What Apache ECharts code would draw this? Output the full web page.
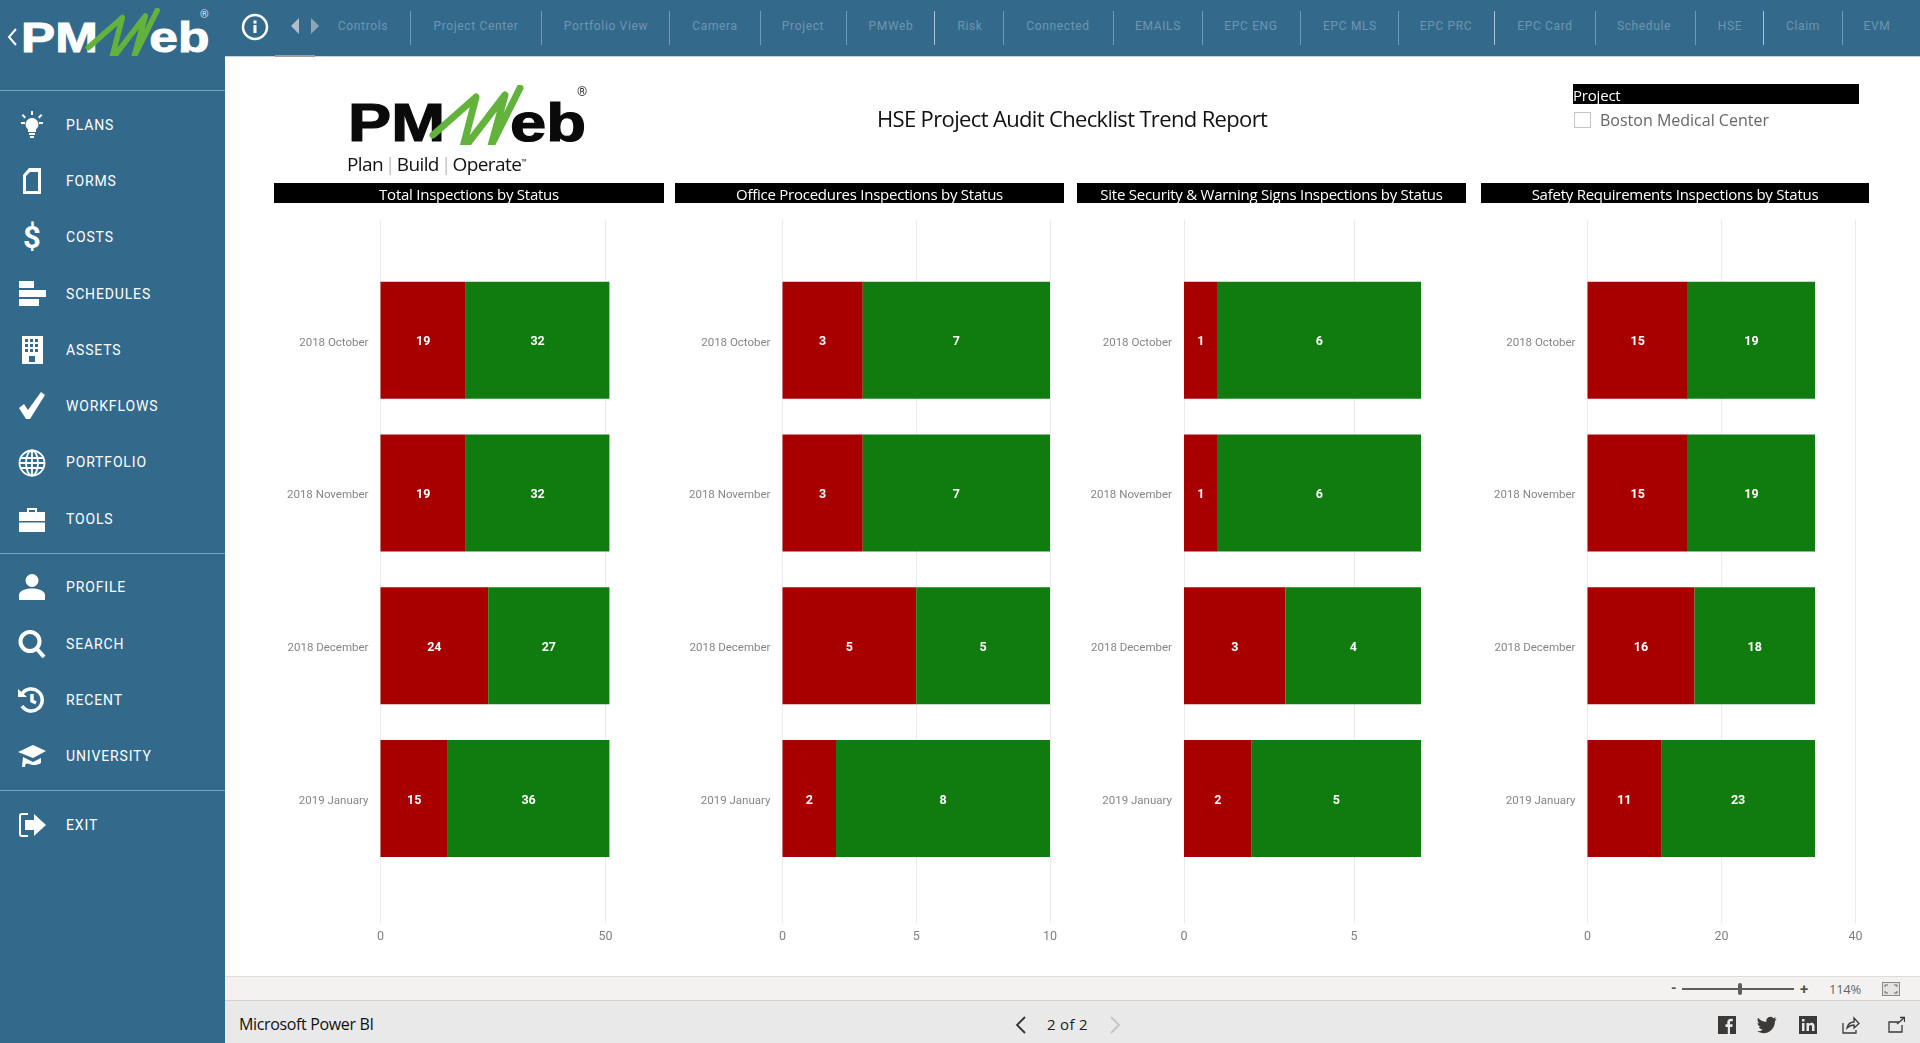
<!DOCTYPE html>
<html>
<head>
<meta charset="utf-8">
<title>HSE Project Audit Checklist Trend Report</title>
<script src="https://cdn.jsdelivr.net/npm/echarts@6/dist/echarts.min.js"></script>
<style>
  html, body { margin: 0; padding: 0; width: 1920px; height: 1043px; overflow: hidden; background: #fff; font-family: "Open Sans", sans-serif; }
  #chart { position: absolute; left: 0; top: 0; width: 1920px; height: 1043px; }
  .abs { position: absolute; white-space: nowrap; }
  #side { position: absolute; left: 0; top: 0; width: 225px; height: 1043px; background: #336a8c; }
  #top { position: absolute; left: 225px; top: 0; width: 1695px; height: 56px; background: #336a8c; border-bottom: 1px solid #c8d4dc; }
  .rule { position: absolute; left: 0; width: 225px; height: 1px; background: #7ba3bf; }
  .menu { position: absolute; left: 66px; color: #fff; font: 400 14px Roboto, sans-serif; letter-spacing: .85px; transform: translateY(-50%); margin-top: -1px; }
  .ico { position: absolute; left: 17px; width: 30px; height: 30px; transform: translateY(-50%); fill: #fff; stroke: none; }
  .nav { position: absolute; top: 26px; color: #6e95b0; font: 12px Roboto, sans-serif; letter-spacing: .65px; transform: translate(-50%, -50%); white-space: nowrap; }
  .sep { position: absolute; top: 11px; width: 1px; height: 34px; background: #6f9ab8; }
  .bar { position: absolute; top: 183px; height: 20px; background: #000; color: #fff; text-align: center; font-size: 15px; line-height: 22px; letter-spacing: -.25px; white-space: nowrap; }
</style>
</head>
<body>
<div id="chart"></div>

<svg width="0" height="0" style="position:absolute">
  <defs>
    <g id="logo">
      <text x="348" y="141" font-family="Liberation Sans" font-weight="bold" font-size="53" textLength="97" lengthAdjust="spacingAndGlyphs" stroke="currentColor" stroke-width="1.2">PM</text>
      <text x="510" y="141" font-family="Liberation Sans" font-weight="bold" font-size="53" textLength="76" lengthAdjust="spacingAndGlyphs" stroke="currentColor" stroke-width="1.2">eb</text>
      <polyline points="433,135 476,97 462,151 505,95 491,146 520,88" fill="none" stroke="#62b23c" stroke-width="7" stroke-linejoin="round" stroke-linecap="round"/>
    </g>
  </defs>
</svg>

<div id="side">
  <svg class="abs" style="left:21px;top:8px;width:194px;height:47.500px;color:#fff;fill:#fff" viewBox="348 85 245 60"><use href="#logo"/></svg>
  <svg class="abs" style="left:6px;top:27px;width:12px;height:20px" viewBox="0 0 12 20"><path d="M10 2L3 10l7 8" fill="none" stroke="#fff" stroke-width="2"/></svg>
  <div class="abs" style="left:200px;top:8px;color:#dfe8ee;font:11px Roboto">®</div>
  <div class="rule" style="top:90px"></div>
  <div class="rule" style="top:553px"></div>
  <div class="rule" style="top:790px"></div>

  <svg class="ico" style="top:125px" viewBox="0 0 30 30"><path d="M15 8a6.5 6.5 0 0 0-4 11.500V22h8v-2.500A6.500 6.500 0 0 0 15 8zM12 23h6v2h-6zM13 26h4v2h-4zM14 1h2v4h-2zM4 12h4v2H4zM22 12h4v2h-4zM6 4l3 3-1.400 1.400-3-3zM24 4l1.400 1.400-3 3L21 7z"/></svg>
  <div class="menu" style="top:125.500px">PLANS</div>
  <svg class="ico" style="top:181px" viewBox="0 0 30 30"><path d="M12 2h12v26H6V9zM13 6l-4 4v15h12V6z" fill-rule="evenodd"/></svg>
  <div class="menu" style="top:181.500px">FORMS</div>
  <div class="abs" style="left:23px;top:219px;color:#fff;font:bold 31px Roboto">$</div>
  <div class="menu" style="top:237.500px">COSTS</div>
  <svg class="ico" style="top:294px" viewBox="0 0 30 30"><path d="M2 2h15v7H2zM2 11h27v7H2zM2 20h20v7H2z"/></svg>
  <div class="menu" style="top:294.500px">SCHEDULES</div>
  <svg class="ico" style="top:350px" viewBox="0 0 30 30"><path d="M5 1h21v28H5zM8 4v3h3V4zM13 4v3h3V4zM18 4v3h3V4zM8 9v3h3V9zM13 9v3h3V9zM18 9v3h3V9zM8 14v3h3v-3zM13 14v3h3v-3zM18 14v3h3v-3zM12 21v6h6v-6z" fill-rule="evenodd"/></svg>
  <div class="menu" style="top:350.500px">ASSETS</div>
  <svg class="ico" style="top:406px" viewBox="0 0 30 30"><path d="M2 17l5-4 4 6L24 1l4 3-15 24h-4z"/></svg>
  <div class="menu" style="top:406.500px">WORKFLOWS</div>
  <svg class="ico" style="top:463px;fill:none;stroke:#fff;stroke-width:1.800" viewBox="0 0 30 30"><circle cx="15" cy="15" r="12.500"/><ellipse cx="15" cy="15" rx="6" ry="12.500"/><path d="M15 2.500v25M3 10h24M3 20h24M2.500 15h25"/></svg>
  <div class="menu" style="top:462.500px">PORTFOLIO</div>
  <svg class="ico" style="top:519px" viewBox="0 0 30 30"><path d="M10 8V4h10v4h-2V6h-6v2zM2 8h26v9H2zM2 18.500h26V28H2z"/></svg>
  <div class="menu" style="top:519.500px">TOOLS</div>
  <svg class="ico" style="top:587px" viewBox="0 0 30 30"><circle cx="15" cy="8.500" r="6.500"/><path d="M2 28v-5c0-4 6-6.500 13-6.500s13 2.500 13 6.500v5z"/></svg>
  <div class="menu" style="top:587.500px">PROFILE</div>
  <svg class="ico" style="top:644px;fill:none;stroke:#fff;stroke-width:4" viewBox="0 0 30 30"><circle cx="13" cy="12.500" r="9.500"/><path d="M20 20l7 8"/></svg>
  <div class="menu" style="top:644.500px">SEARCH</div>
  <svg class="ico" style="top:700px;fill:none;stroke:#fff;stroke-width:3.500" viewBox="0 0 30 30"><path d="M5 9a11 11 0 1 1 0 12M15 9v7l4 2"/><path d="M1 4l9 8H1z" fill="#fff" stroke="none"/></svg>
  <div class="menu" style="top:700.500px">RECENT</div>
  <svg class="ico" style="top:756px" viewBox="0 0 30 30"><path d="M1 11L16 4l13 6-13 7zM6 16l10 5 8-4v5c-5 3-9 2-12 1-2-1-4-1-4 3H5z"/></svg>
  <div class="menu" style="top:756.500px">UNIVERSITY</div>
  <svg class="ico" style="top:825px" viewBox="0 0 30 30"><path d="M11 3H5a3 3 0 0 0-3 3v18a3 3 0 0 0 3 3h6v-2H5a1 1 0 0 1-1-1V6a1 1 0 0 1 1-1h6z"/><path d="M8 10h9V4l12 11-12 11v-6H8z"/></svg>
  <div class="menu" style="top:825.500px">EXIT</div>
</div>

<div id="top"></div>
<svg class="abs" style="left:241px;top:11px;width:30px;height:32px" viewBox="0 0 30 32"><circle cx="14" cy="16" r="12" fill="none" stroke="#fff" stroke-width="2.500"/><rect x="12.500" y="14" width="3" height="8" fill="#fff"/><rect x="12.500" y="9.500" width="3" height="3" fill="#fff"/></svg>
<svg class="abs" style="left:290px;top:17px;width:32px;height:18px" viewBox="0 0 32 18"><path d="M1 9l8-8v16z" fill="#aebfca"/><path d="M21 1l8 8-8 8z" fill="#8da6b6"/></svg>
<div class="abs" style="left:275px;top:55px;width:40px;height:2px;background:#9f9f98"></div>

<div class="nav" style="left:363px">Controls</div><div class="sep" style="left:410px"></div>
<div class="nav" style="left:476px">Project Center</div><div class="sep" style="left:541px"></div>
<div class="nav" style="left:606px">Portfolio View</div><div class="sep" style="left:669px"></div>
<div class="nav" style="left:715px">Camera</div><div class="sep" style="left:760px"></div>
<div class="nav" style="left:803px">Project</div><div class="sep" style="left:846px"></div>
<div class="nav" style="left:891px">PMWeb</div><div class="sep" style="left:934px;background:#a9c4d6"></div>
<div class="nav" style="left:970px">Risk</div><div class="sep" style="left:1003px"></div>
<div class="nav" style="left:1058px">Connected</div><div class="sep" style="left:1113px"></div>
<div class="nav" style="left:1158px">EMAILS</div><div class="sep" style="left:1202px"></div>
<div class="nav" style="left:1251px">EPC ENG</div><div class="sep" style="left:1300px"></div>
<div class="nav" style="left:1350px">EPC MLS</div><div class="sep" style="left:1398px"></div>
<div class="nav" style="left:1446px">EPC PRC</div><div class="sep" style="left:1494px;background:#a9c4d6"></div>
<div class="nav" style="left:1545px">EPC Card</div><div class="sep" style="left:1595px"></div>
<div class="nav" style="left:1644px">Schedule</div><div class="sep" style="left:1695px"></div>
<div class="nav" style="left:1730px">HSE</div><div class="sep" style="left:1763px;background:#a9c4d6"></div>
<div class="nav" style="left:1803px">Claim</div><div class="sep" style="left:1842px"></div>
<div class="nav" style="left:1877px">EVM</div>

<svg class="abs" style="left:348px;top:85px;width:245px;height:60px;color:#0a0a0a;fill:#0a0a0a" viewBox="348 85 245 60"><use href="#logo"/></svg>
<div class="abs" style="left:577px;top:84px;color:#333;font:13px Roboto">®</div>
<div class="abs" style="left:347px;top:151px;color:#111;font:19px 'Open Sans';letter-spacing:-.6px">Plan<span style="color:#999;margin:0 2px;font-weight:300">|</span>Build<span style="color:#999;margin:0 2px;font-weight:300">|</span>Operate<sup style="font-size:7px">™</sup></div>

<div class="abs" style="left:877px;top:102px;color:#111;font-size:22px;line-height:32px;letter-spacing:-.65px">HSE Project Audit Checklist Trend Report</div>

<div class="abs" style="left:1573px;top:84px;width:286px;height:20px;background:#000;color:#fff;font-size:15px;line-height:23px;letter-spacing:-.2px">Project</div>
<div class="abs" style="left:1574px;top:112px;width:15px;height:14px;border:1px solid #c4c4c4"></div>
<div class="abs" style="left:1600px;top:109px;color:#666;font-size:16px;line-height:22px">Boston Medical Center</div>

<div class="bar" style="left:274px;width:390px">Total Inspections by Status</div>
<div class="bar" style="left:675px;width:389px">Office Procedures Inspections by Status</div>
<div class="bar" style="left:1077px;width:389px">Site Security &amp; Warning Signs Inspections by Status</div>
<div class="bar" style="left:1481px;width:388px">Safety Requirements Inspections by Status</div>

<div class="abs" style="left:225px;top:976px;width:1695px;height:25px;background:#f3f2f1;border-top:1px solid #dedcda;border-bottom:1px solid #d2d0ce;box-sizing:border-box"></div>
<div class="abs" style="left:225px;top:1001px;width:1695px;height:42px;background:#e9e9e9"></div>
<div class="abs" style="left:239px;top:1013px;color:#111;font-size:16px;line-height:22px;letter-spacing:-.35px">Microsoft Power BI</div>
<svg class="abs" style="left:1014px;top:1016px;width:14px;height:18px" viewBox="0 0 14 18"><path d="M11 1L3 9l8 8" fill="none" stroke="#333" stroke-width="1.800"/></svg>
<div class="abs" style="left:1047px;top:1013px;color:#222;font-size:15px;line-height:22px;letter-spacing:.3px">2 of 2</div>
<svg class="abs" style="left:1108px;top:1016px;width:14px;height:18px" viewBox="0 0 14 18"><path d="M3 1l8 8-8 8" fill="none" stroke="#c4c4c4" stroke-width="1.800"/></svg>

<div class="abs" style="left:1671px;top:980px;color:#555;font:bold 14px Roboto">-</div>
<div class="abs" style="left:1682px;top:988px;width:112px;height:2px;background:#605e5c"></div>
<div class="abs" style="left:1738px;top:983px;width:4px;height:12px;border-radius:2px;background:#605e5c"></div>
<div class="abs" style="left:1800px;top:980px;color:#555;font:bold 15px Roboto">+</div>
<div class="abs" style="left:1829px;top:980px;color:#666;font-size:13px;line-height:18px;letter-spacing:-.3px">114%</div>
<svg class="abs" style="left:1882px;top:982px;width:18px;height:14px" viewBox="0 0 18 14"><rect x=".5" y=".5" width="17" height="13" fill="#e3e3e3" stroke="#8a8a8a"/><path d="M3 5V3h3M12 3h3v2M15 9v2h-3M6 11H3V9" fill="none" stroke="#666"/></svg>

<svg class="abs" style="left:1718px;top:1016px;width:18px;height:18px" viewBox="0 0 18 18"><rect width="18" height="18" fill="#3b3a39"/><path d="M12 18v-7h2.300l.4-2.800H12V6.600c0-.8.3-1.300 1.400-1.300h1.400V2.800c-.3 0-1.100-.1-2-.1-2.100 0-3.500 1.300-3.500 3.600v1.900H7.500V11h2.300v7z" fill="#e9e9e9"/></svg>
<svg class="abs" style="left:1757px;top:1016px;width:20px;height:18px" viewBox="0 0 24 20"><path d="M23.500 2.600c-.9.400-1.800.7-2.800.8 1-.6 1.800-1.500 2.100-2.700-.9.600-2 1-3.100 1.200A4.900 4.900 0 0 0 11.300 6.400C7.300 6.200 3.700 4.300 1.300 1.300c-1.300 2.200-.6 5 1.500 6.500-.8 0-1.500-.2-2.200-.6 0 2.300 1.700 4.400 3.900 4.900-.7.200-1.500.2-2.200.1.600 2 2.400 3.400 4.600 3.400A9.900 9.900 0 0 1 0 17.600 14 14 0 0 0 7.500 19.800c9.100 0 14.300-7.700 14-14.600 1-.7 1.800-1.600 2-2.600z" fill="#3b3a39"/></svg>
<svg class="abs" style="left:1799px;top:1016px;width:18px;height:18px" viewBox="0 0 18 18"><rect width="18" height="18" fill="#3b3a39"/><path d="M3 7h2.500v8H3zM3 3h2.500v2.500H3zM7.500 7H10v1.200c.6-.9 1.500-1.400 2.700-1.400 2 0 2.800 1.300 2.800 3.500V15H13v-4.200c0-1.100-.4-1.800-1.300-1.800-1 0-1.700.7-1.700 1.900V15H7.500z" fill="#e9e9e9"/></svg>
<svg class="abs" style="left:1842px;top:1016px;width:18px;height:18px" viewBox="0 0 18 18"><path d="M1 7v10h13v-3M5 12c1-4 4-6 7-6V2l5 5.500L12 12V9c-3 0-5 1-7 3z" fill="none" stroke="#3b3a39" stroke-width="1.300"/></svg>
<svg class="abs" style="left:1888px;top:1016px;width:17px;height:18px" viewBox="0 0 17 18"><path d="M11 6H1v10h13V9M9 8l7-6M12 1.500h4.500V6" fill="none" stroke="#3b3a39" stroke-width="1.300"/></svg>

<script>
var months = ['2018 October', '2018 November', '2018 December', '2019 January'];

var totalRed = [19, 19, 24, 15];
var totalGreen = [32, 32, 27, 36];
var officeRed = [3, 3, 5, 2];
var officeGreen = [7, 7, 5, 8];
var siteRed = [1, 1, 3, 2];
var siteGreen = [6, 6, 4, 5];
var safetyRed = [15, 15, 16, 11];
var safetyGreen = [19, 19, 18, 23];

var totalTicks = { max: 50, interval: 50 };
var officeTicks = { max: 10, interval: 5 };
var siteTicks = { max: 5, interval: 5 };
var safetyTicks = { max: 40, interval: 20 };

// left edge, right edge of the gridline scale, right edge and top value of the bar scale
var panels = [
    { left: 380.5, gridRight: 605.5, barRight: 609.4, barMax: 51, red: totalRed, green: totalGreen, ticks: totalTicks },
    { left: 782.5, gridRight: 1050, barRight: 1050, barMax: 10, red: officeRed, green: officeGreen, ticks: officeTicks },
    { left: 1184, gridRight: 1354, barRight: 1421, barMax: 7, red: siteRed, green: siteGreen, ticks: siteTicks },
    { left: 1587.5, gridRight: 1855.5, barRight: 1815, barMax: 34, red: safetyRed, green: safetyGreen, ticks: safetyTicks }
];

var option = { animation: false, grid: [], xAxis: [], yAxis: [], series: [] };

panels.forEach(function (p) {
    // tall grid: only gridlines and tick labels
    var tall = option.grid.length;
    option.grid.push({ left: p.left, width: p.gridRight - p.left, top: 220, height: 703 });
    option.xAxis.push({
        gridIndex: tall, type: 'value', min: 0, max: p.ticks.max, interval: p.ticks.interval,
        axisLine: { show: false }, axisTick: { show: false },
        splitLine: { show: true, lineStyle: { color: '#ebebeb', width: 1 } },
        axisLabel: { color: '#808080', fontFamily: 'Roboto', fontSize: 12.5, margin: 7 }
    });
    option.yAxis.push({ gridIndex: tall, type: 'value', min: 0, max: 1, show: false });

    // inner grid: the bars, four bands of 152.8px
    var inner = option.grid.length;
    option.grid.push({ left: p.left, width: p.barRight - p.left, top: 263.8, height: 611.2 });
    option.xAxis.push({ gridIndex: inner, type: 'value', min: 0, max: p.barMax, show: false });
    option.yAxis.push({
        gridIndex: inner, type: 'category', inverse: true, data: months,
        axisLine: { show: false }, axisTick: { show: false },
        axisLabel: { color: '#858585', fontFamily: 'Roboto', fontSize: 11.5, margin: 12, verticalAlign: 'top', lineHeight: 5 }
    });

    [['Red', p.red, '#a80000'], ['Green', p.green, '#107c10']].forEach(function (s) {
        option.series.push({
            name: s[0], type: 'bar', stack: 'status' + inner, xAxisIndex: inner, yAxisIndex: inner,
            data: s[1], barWidth: 117, itemStyle: { color: s[2] },
            label: {
                show: true, position: 'inside', offset: [0, 2], color: '#fff',
                fontFamily: 'Roboto', fontWeight: 'bold', fontSize: 12.5
            }
        });
    });
});

var chart = echarts.init(document.getElementById('chart'));
chart.setOption(option);
</script>
</body>
</html>
